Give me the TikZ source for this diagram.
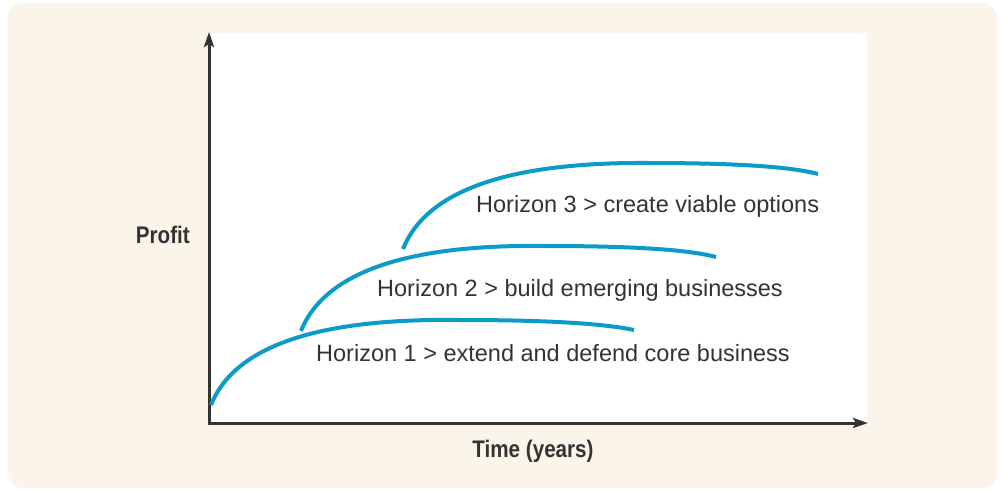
\documentclass[tikz,border=0pt]{standalone}
\usepackage{fontspec}
\setmainfont{Liberation Sans}
\newfontfamily\axisfont{Liberation Sans}[FakeStretch=0.86]
\usetikzlibrary{arrows.meta}
\definecolor{cream}{HTML}{FBF4E9}
\definecolor{horizonblue}{HTML}{0A9BC8}
\definecolor{ink}{HTML}{333333}
\tikzset{
  axis/.style={draw=ink, line width=3pt, -{Stealth[length=15pt,width=10pt,inset=3pt]}},
  horizon/.style={draw=horizonblue, line width=4pt},
  horizonlabel/.style={anchor=base west, inner sep=0pt, text=ink, font=\fontsize{23.5}{28}\selectfont},
  axislabel/.style={inner sep=0pt, text=ink, font=\axisfont\bfseries\fontsize{24}{28}\selectfont},
}
\begin{document}
\begin{tikzpicture}[x=1pt,y=-1pt]
  \useasboundingbox (0,0) rectangle (1001,490);
  % panel and plot area
  \fill[cream, rounded corners=15pt] (8,3) rectangle (997,488);
  \fill[white] (210,33) rectangle (867,423);

  % axes
  \coordinate (origin) at (209,424.5);
  \coordinate (ytop) at (209,32);
  \coordinate (xleft) at (207.5,423);
  \coordinate (xend) at (868,423);
  \draw[axis] (origin) -- (ytop);
  \draw[axis] (xleft) -- (xend);

  % axis labels
  \node[axislabel, anchor=base east] (profit) at (190,243) {Profit};
  \node[axislabel, anchor=base] (time) at (533,457) {Time (years)};

  % horizon curves
  \draw[horizon, shift={(211,405)}] (0,0) .. controls (24,-60) and (109,-87) .. (249,-85)
        .. controls (330,-85) and (390,-82) .. (423,-75);
  \draw[horizon, shift={(301,331)}] (0,0) .. controls (24,-60) and (109,-87) .. (245,-85)
        .. controls (325,-85) and (385,-82) .. (415,-74);
  \draw[horizon, shift={(403,249)}] (0,0) .. controls (24,-60) and (109,-87) .. (245,-86)
        .. controls (325,-86) and (385,-83) .. (415,-75);

  % horizon labels
  \node[horizonlabel] (h3) at (476,212) {Horizon 3 > create viable options};
  \node[horizonlabel] (h2) at (377,296) {Horizon 2 > build emerging businesses};
  \node[horizonlabel] (h1) at (316,361) {Horizon 1 > extend and defend core business};
\end{tikzpicture}
\end{document}
